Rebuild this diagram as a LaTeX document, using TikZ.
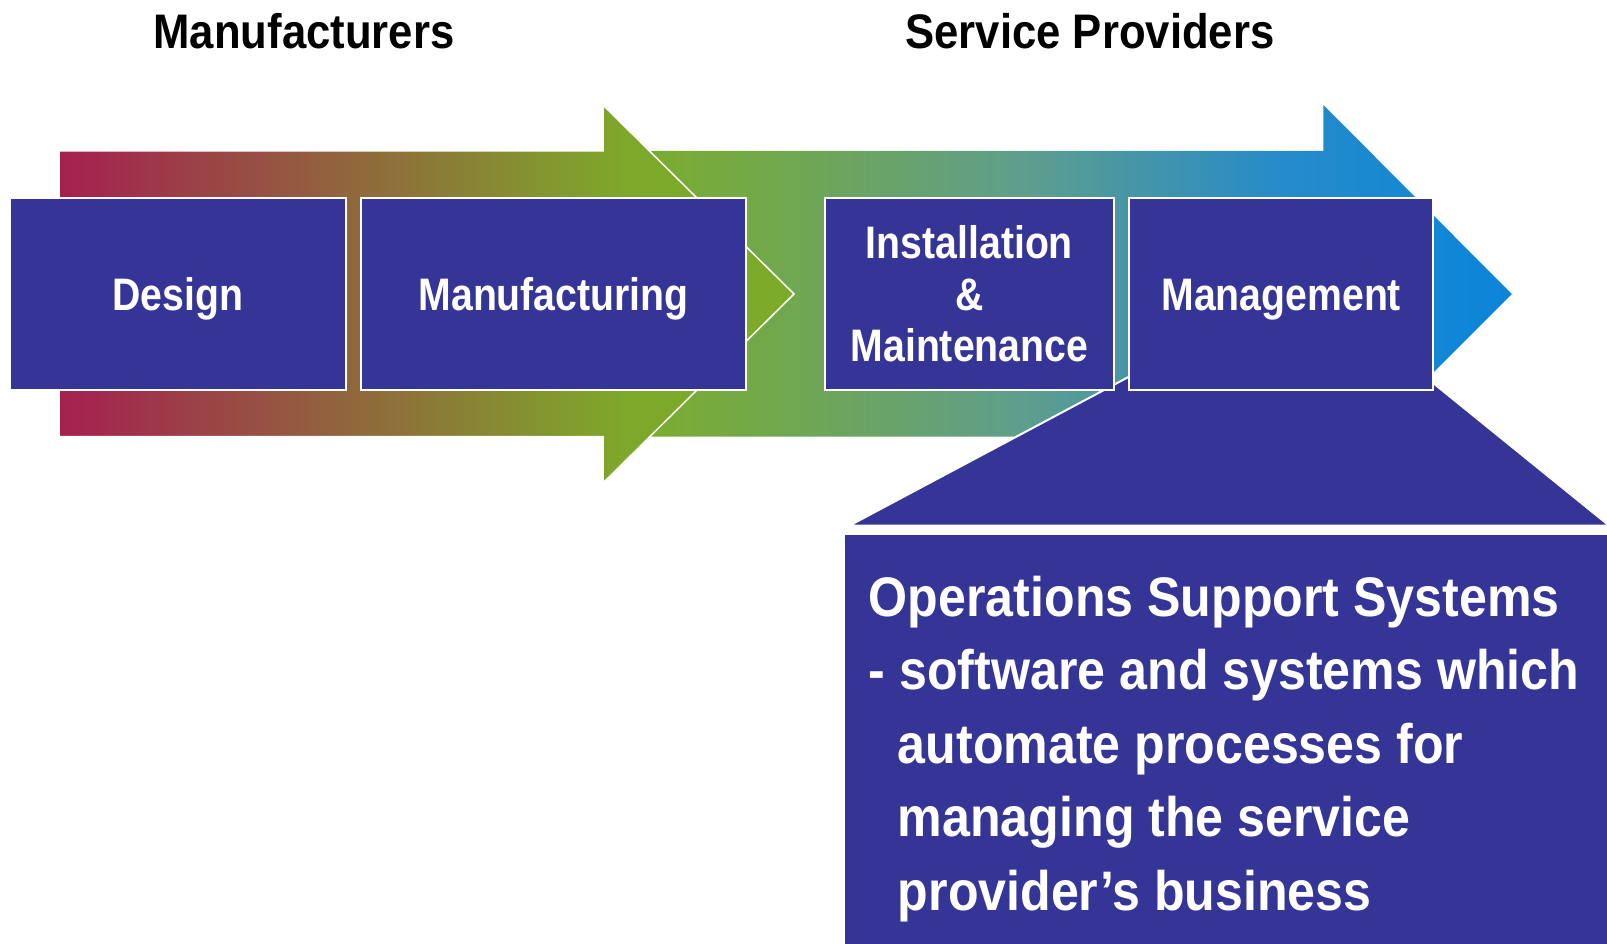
\documentclass[tikz,border=0pt]{standalone}
\usepackage{fontspec}
\setmainfont{Liberation Sans}[FakeStretch=0.9]
\newfontfamily\boxfont{Liberation Sans}[FakeStretch=0.86]
\definecolor{boxblue}{RGB}{53,52,151}
\definecolor{crim}{RGB}{165,32,80}
\definecolor{greenA}{RGB}{126,168,42}
\definecolor{greenA2}{RGB}{122,172,40}
\definecolor{greenB}{RGB}{122,172,48}
\definecolor{tealB}{RGB}{95,158,140}
\definecolor{skyB}{RGB}{40,140,200}
\definecolor{blueB}{RGB}{15,134,215}
\definecolor{blueB2}{RGB}{12,132,216}
\pgfdeclarehorizontalshading{mfrshade}{100bp}{color(0bp)=(crim); color(25bp)=(crim); color(63.2bp)=(greenA); color(75bp)=(greenA2); color(100bp)=(greenA2)}
\pgfdeclarehorizontalshading{spshade}{100bp}{color(0bp)=(greenB); color(26.1bp)=(greenB); color(46.8bp)=(tealB); color(61.1bp)=(skyB); color(72bp)=(blueB); color(75bp)=(blueB2); color(100bp)=(blueB2)}
\begin{document}
\begin{tikzpicture}[x=1pt,y=-1pt,
  stage/.style={draw=white, line width=2pt, fill=boxblue, text=white, inner sep=0pt,
    minimum height=192pt, font=\boxfont\bfseries\fontsize{45.6}{51.7}\selectfont, align=center},
  oneline/.style={text height=33pt, text depth=0pt},
  title/.style={font=\bfseries\fontsize{48.5}{55}\selectfont, anchor=base},
  calloutshape/.style={draw=white, line width=2pt, fill=boxblue},
  osstext/.style={text=white, inner sep=0pt, align=left, font=\bfseries\fontsize{55.7}{73.4}\selectfont}]
\useasboundingbox (0,0) rectangle (1607,944);
% second arrow (service providers)
\path[shading=spshade]
  (640,151) -- (1323.4,151) -- (1323.4,105) -- (1511.8,294) -- (1323.4,482.7)
  -- (1323.4,436.7) -- (640,436.7) -- cycle;
% first arrow (manufacturers)
\path[draw=white, line width=1.5pt, shading=mfrshade]
  (59,151) -- (603,151) -- (603,105) -- (794,294) -- (603,483)
  -- (603,436.7) -- (59,436.7) -- cycle;
% callout
\draw[calloutshape] (849.6,525.5) -- (1160,360.2) -- (1420,372.4) -- (1609,525.5) -- cycle;
\draw[calloutshape] (843.6,533.5) rectangle (1625,960);
% titles
\node[title] (mfr) at (304,49) {Manufacturers};
\node[title] (sp) at (1090,49) {Service Providers};
% stages
\node[stage, oneline, minimum width=335.4pt] (design) at (177.9,294) {Design};
\node[stage, oneline, minimum width=384.8pt] (manuf) at (553.6,294) {Manufacturing};
\node[stage, minimum width=289.3pt] (install) at (969.4,294) {Installation\\\&\\Maintenance};
\node[stage, oneline, minimum width=303.6pt] (mgmt) at (1281.2,294) {Management};
% callout text (base anchor = last line's baseline)
\node[osstext, anchor=base west] (oss) at (868.7,910)
  {Operations Support Systems\\- software and systems which\\\hspace*{29pt}automate processes for\\\hspace*{29pt}managing the service\\\hspace*{29pt}provider’s business};
\end{tikzpicture}
\end{document}
